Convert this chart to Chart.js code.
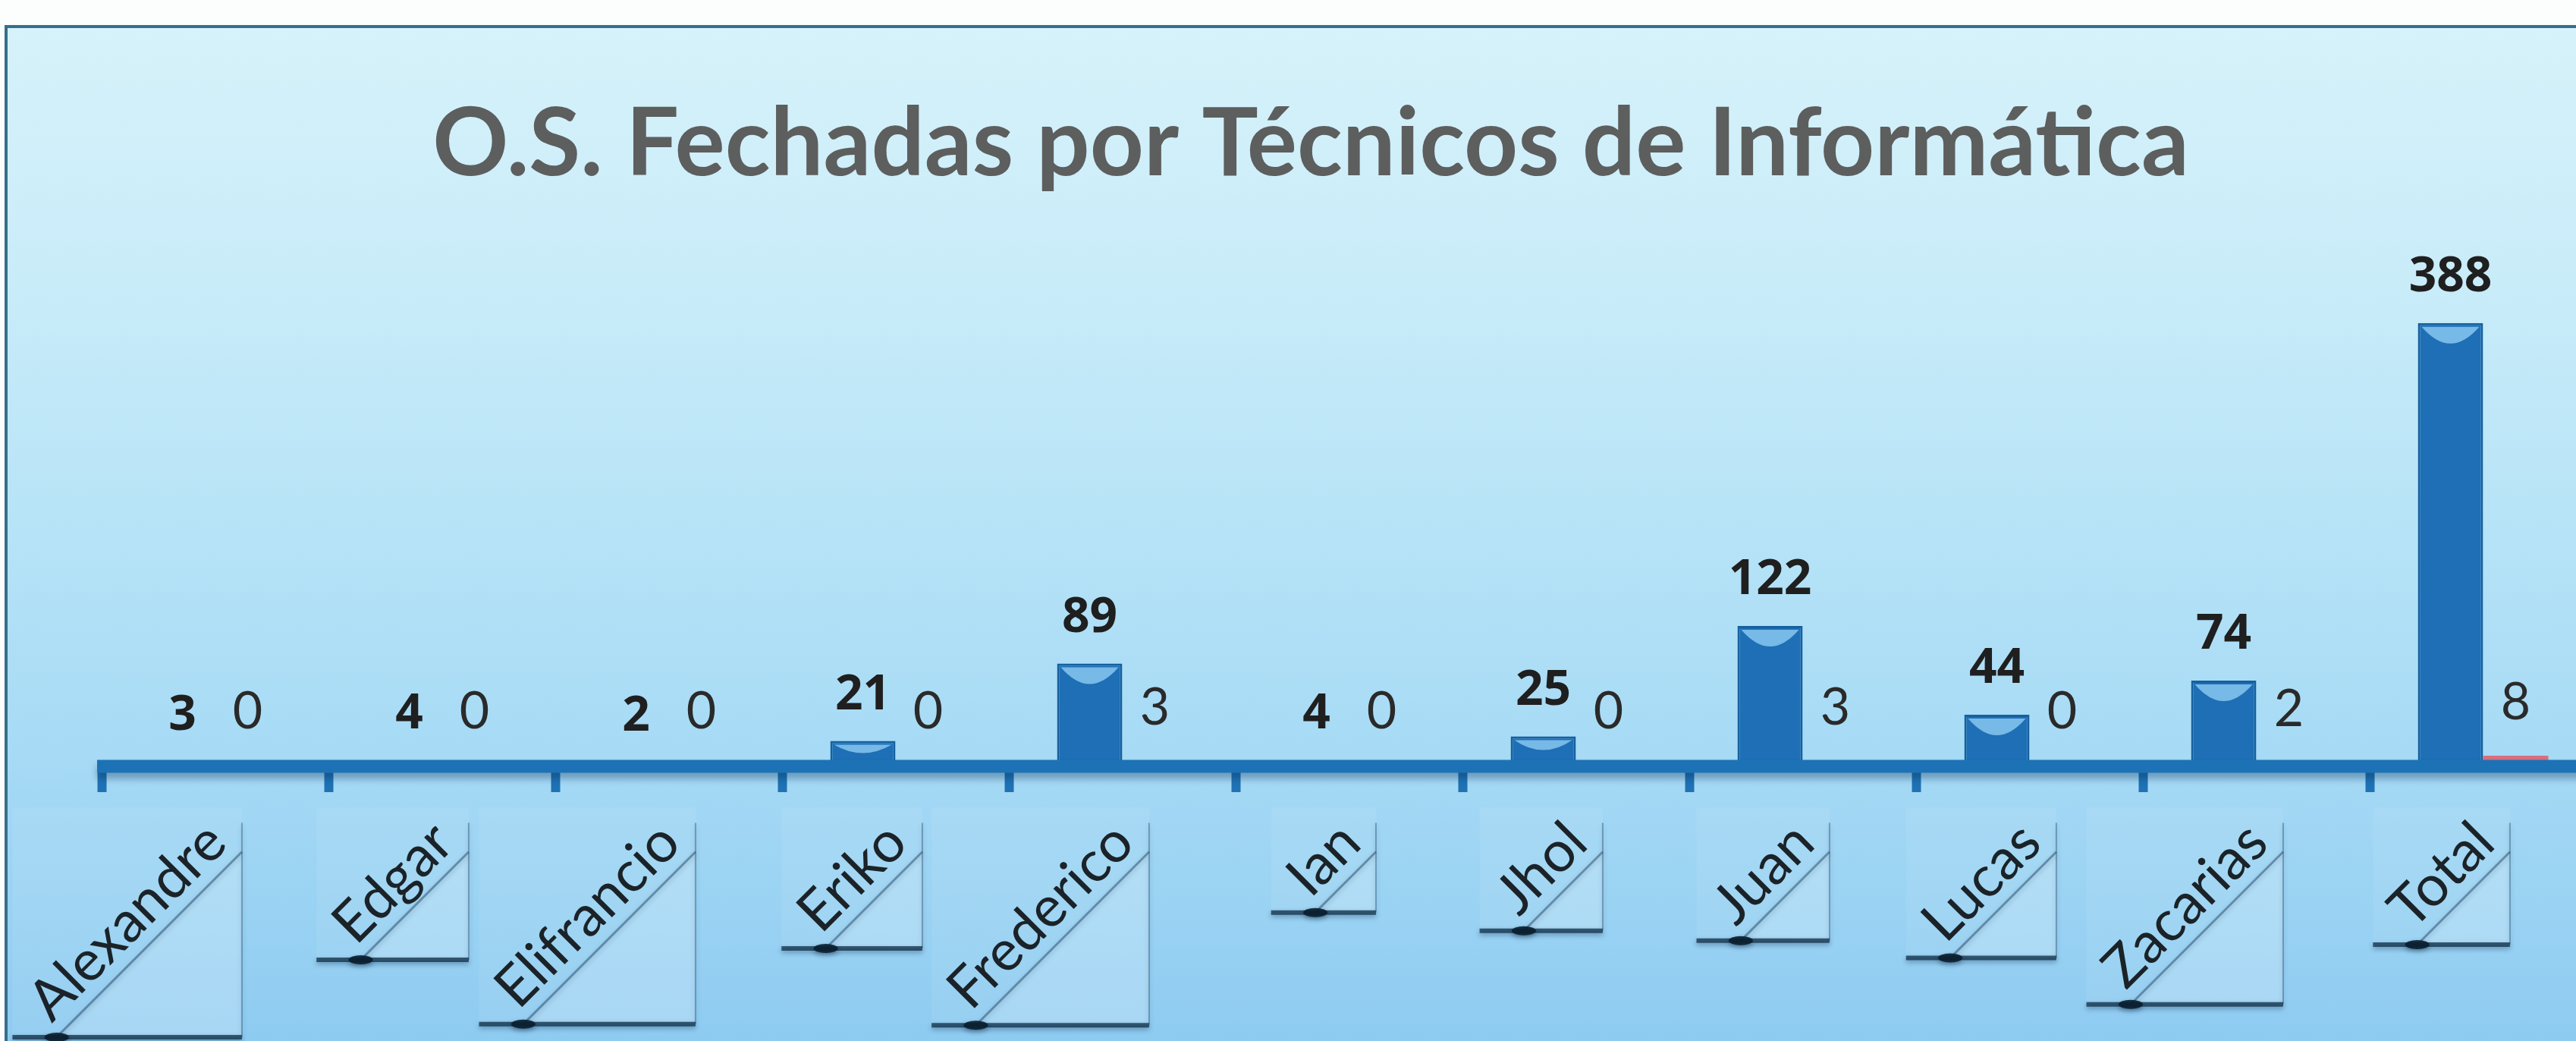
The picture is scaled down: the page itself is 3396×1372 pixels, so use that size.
<!DOCTYPE html>
<html>
<head>
<meta charset="utf-8">
<script src="https://cdn.jsdelivr.net/npm/chart.js@4.4.1/dist/chart.umd.min.js"></script>
<style>
    html, body { margin: 0; padding: 0; width: 3396px; height: 1372px; overflow: hidden; background: #fcfdfd; }
    #frame {
        position: absolute; left: 6px; top: 33px; width: 3500px; height: 1340px;
        border: 4px solid #356f8b;
        background: linear-gradient(180deg, #d6f2fa 0%, #c9ecf9 25%, #b6e3f7 50%, #a6daf5 72%, #8ecbf1 100%);
    }
    #chart { position: absolute; left: 0; top: 0; }
</style>
</head>
<body>
<div id="frame"></div>
<canvas id="chart" width="3500" height="1372"></canvas>
<script>
var tecnicos = ['Alexandre', 'Edgar', 'Elifrancio', 'Eriko', 'Frederico', 'Ian', 'Jhol', 'Juan', 'Lucas', 'Zacarias', 'Total'];
var osFechadas = [3, 4, 2, 21, 89, 4, 25, 122, 44, 74, 388];
var osSegunda = [0, 0, 0, 0, 3, 0, 0, 3, 0, 2, 8];
var tituloGrafico = 'O.S. Fechadas por Técnicos de Informática';

// boxed / shadowed look behind the rotated category labels
var labelBoxes = {
    id: 'labelBoxes',
    beforeDraw: function(chart) {
        var ctx = chart.ctx;
        var scale = chart.scales.x;
        var items = scale.getLabelItems(chart.chartArea);
        ctx.save();
        for (var i = 0; i < items.length; i++) {
            var it = items[i];
            var tx = it.options.translation[0];
            var ty = it.options.translation[1];
            var rot = it.options.rotation;
            ctx.font = it.font.string;
            var w = ctx.measureText(it.label).width + 8;
            var half = it.font.size * 0.55;
            var off = it.textOffset;
            var c = Math.cos(rot), s = Math.sin(rot);
            function pt(x, y) { return [tx + x * c - y * s, ty + x * s + y * c]; }
            var p1 = pt(-w, off - half), p2 = pt(6, off - half), p3 = pt(6, off + half), p4 = pt(-w, off + half);
            var left = p1[0], right = p3[0], top = p2[1], bottom = p4[1];

            // light box
            ctx.fillStyle = 'rgba(255, 255, 255, 0.07)';
            ctx.fillRect(left, top, right - left, bottom - top);
            // light triangle under the text
            ctx.fillStyle = 'rgba(255, 255, 255, 0.16)';
            ctx.beginPath();
            ctx.moveTo(p4[0], p4[1]);
            ctx.lineTo(p3[0], p3[1]);
            ctx.lineTo(right, bottom);
            ctx.closePath();
            ctx.fill();

            ctx.shadowColor = 'rgba(0, 30, 60, 0.45)';
            ctx.shadowBlur = 6;
            ctx.shadowOffsetY = 3;
            // right edge
            ctx.strokeStyle = 'rgba(30, 70, 100, 0.4)';
            ctx.lineWidth = 2;
            ctx.beginPath();
            ctx.moveTo(right, top + 20);
            ctx.lineTo(right, bottom);
            ctx.stroke();
            // diagonal edge under the text
            ctx.strokeStyle = 'rgba(25, 60, 90, 0.45)';
            ctx.lineWidth = 3;
            ctx.beginPath();
            ctx.moveTo(p4[0], p4[1]);
            ctx.lineTo(p3[0], p3[1]);
            ctx.stroke();
            // bottom shadow line
            ctx.strokeStyle = 'rgba(15, 45, 70, 0.75)';
            ctx.lineWidth = 6;
            ctx.beginPath();
            ctx.moveTo(left, bottom);
            ctx.lineTo(right, bottom);
            ctx.stroke();
            ctx.fillStyle = 'rgba(10, 30, 45, 0.9)';
            ctx.beginPath();
            ctx.ellipse(p4[0], bottom, 16, 6, 0, 0, Math.PI * 2);
            ctx.fill();
            ctx.shadowColor = 'transparent';
        }
        ctx.restore();
    }
};

// axis line, bar gloss and value labels, drawn over the bars
var chartExtras = {
    id: 'chartExtras',
    afterDatasetsDraw: function(chart) {
        var ctx = chart.ctx;
        var area = chart.chartArea;
        var yZero = chart.scales.y.getPixelForValue(0);

        ctx.save();
        // gloss on top of blue bars
        var meta = chart.getDatasetMeta(0);
        for (var i = 0; i < meta.data.length; i++) {
            var p = meta.data[i].getProps(['x', 'y', 'base', 'width'], true);
            var h = p.base - p.y;
            if (h < 14) continue;
            var l = p.x - p.width / 2 + 5;
            var r = p.x + p.width / 2 - 5;
            var d = Math.min(22, h * 0.35);
            ctx.fillStyle = 'rgba(150, 210, 248, 0.75)';
            ctx.beginPath();
            ctx.moveTo(l, p.y + 5);
            ctx.lineTo(r, p.y + 5);
            ctx.quadraticCurveTo(p.x, p.y + 5 + 2 * d, l, p.y + 5);
            ctx.fill();
        }

        // thick category axis line with a soft shadow
        ctx.shadowColor = 'rgba(0, 40, 80, 0.35)';
        ctx.shadowBlur = 10;
        ctx.shadowOffsetY = 8;
        ctx.strokeStyle = '#1d72b5';
        ctx.lineWidth = 17;
        ctx.beginPath();
        ctx.moveTo(area.left - 6, yZero + 2);
        ctx.lineTo(area.right + 20, yZero + 2);
        ctx.stroke();
        ctx.shadowColor = 'transparent';

        // value labels
        ctx.textAlign = 'center';
        ctx.textBaseline = 'middle';
        for (var s = 0; s < chart.data.datasets.length; s++) {
            var m = chart.getDatasetMeta(s);
            var lift = 70;
            if (s == 0) {
                ctx.font = 'bold 64px "Open Sans"';
                ctx.fillStyle = '#1f1f1f';
                lift = 60;
            } else {
                ctx.font = '68px Lato';
                ctx.fillStyle = '#2a2a2a';
            }
            for (var j = 0; j < m.data.length; j++) {
                var el = m.data[j];
                ctx.fillText(chart.data.datasets[s].data[j], el.x, el.y - lift);
            }
        }
        ctx.restore();
    }
};

var ctx = document.getElementById('chart').getContext('2d');
var chart = new Chart(ctx, {
    type: 'bar',
    data: {
        labels: tecnicos,
        datasets: [
            {
                label: 'O.S. Fechadas',
                data: osFechadas,
                backgroundColor: '#1e6fb5',
                borderColor: '#16609f',
                borderWidth: 3,
                categoryPercentage: 0.575,
                barPercentage: 1
            },
            {
                label: 'Reabertas',
                data: osSegunda,
                backgroundColor: 'rgba(224, 92, 104, 0.85)',
                borderWidth: 0,
                categoryPercentage: 0.575,
                barPercentage: 1
            }
        ]
    },
    options: {
        responsive: false,
        animation: false,
        devicePixelRatio: 1,
        layout: { padding: { left: 33, right: 77, top: 0, bottom: 0 } },
        plugins: {
            legend: { display: false },
            tooltip: { enabled: false },
            title: {
                display: true,
                text: tituloGrafico,
                color: '#5d5e5e',
                font: { family: 'Lato', size: 124, weight: 'bold', lineHeight: 1.2 },
                padding: { top: 117, bottom: 67 }
            }
        },
        scales: {
            x: {
                grid: {
                    display: true,
                    offset: true,
                    drawOnChartArea: false,
                    drawTicks: true,
                    tickLength: 36,
                    tickWidth: 12,
                    tickColor: '#1f73b5'
                },
                border: { display: false },
                ticks: {
                    autoSkip: false,
                    minRotation: 45,
                    maxRotation: 45,
                    padding: 22,
                    labelOffset: 2,
                    color: '#1b2328',
                    font: { family: 'Lato', size: 75 }
                },
                afterFit: function(scale) {
                    scale.height = 364;
                    scale.paddingLeft = 0;
                    scale.paddingRight = 0;
                }
            },
            y: {
                display: true,
                min: 0,
                max: 450,
                grid: { display: false },
                border: { display: false },
                ticks: { display: false },
                afterFit: function(scale) {
                    scale.width = 101;
                    scale.paddingTop = 0;
                    scale.paddingBottom = 0;
                }
            }
        }
    },
    plugins: [labelBoxes, chartExtras]
});
</script>
</body>
</html>
